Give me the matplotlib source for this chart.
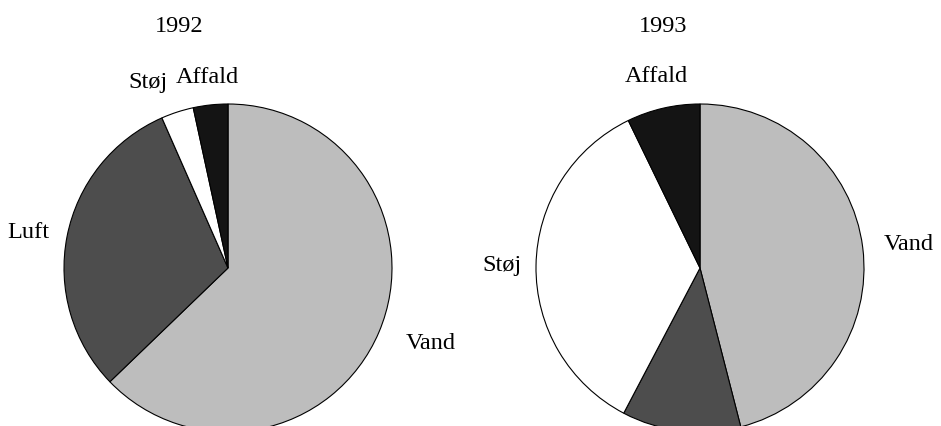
import matplotlib.pyplot as plt
import numpy as np

plt.rcParams['font.family'] = ['Liberation Serif', 'DejaVu Serif']

categories = ["Vand", "Luft", "Støj", "Affald"]
years = ["1992", "1993"]
shares_1992 = [62.8, 30.6, 3.2, 3.4]
shares_1993 = [46.0, 11.7, 35.1, 7.2]
labels_1992 = ["Vand", "Luft", "Støj", "Affald"]
labels_1993 = ["Vand", "", "Støj", "Affald"]

colors = ["#bdbdbd", "#4d4d4d", "#ffffff", "#141414"]

W, H = 941, 426
R = 164  # pie radius in px
LIM = 1.35

fig = plt.figure(figsize=(W / 100, H / 100), dpi=100)
fig.patch.set_facecolor("white")


def make_axes(cx, cy):
    half = LIM * R
    ax = fig.add_axes([(cx - half) / W, (H - cy - half) / H, 2 * half / W, 2 * half / H])
    return ax


def draw_pie(ax, values, labels, dists, aligns):
    wedges, _ = ax.pie(values, colors=colors, startangle=90, counterclock=False,
                       wedgeprops=dict(edgecolor="black", linewidth=0.8))
    for w, lab, d, ha in zip(wedges, labels, dists, aligns):
        if not lab:
            continue
        mid = np.deg2rad((w.theta1 + w.theta2) / 2)
        x, y = d * np.cos(mid), d * np.sin(mid)
        if ha is None:
            ha = "left" if x > 0 else "right"
        ax.text(x, y, lab, ha=ha, va="center", fontsize=17.5)
    ax.set_xlim(-LIM, LIM)
    ax.set_ylim(-LIM, LIM)
    ax.set_aspect("equal")
    ax.axis("off")


ax1 = make_axes(228, 268)
draw_pie(ax1, shares_1992, labels_1992, [1.18, 1.11, 1.19, 1.17],
         [None, None, None, "center"])

ax2 = make_axes(700, 268)
draw_pie(ax2, shares_1993, labels_1993, [1.13, 1.1, 1.09, 1.2],
         [None, None, None, "center"])

fig.text(179.5 / W, 1 - 26 / H, years[0], ha="center", va="center", fontsize=17.5)
fig.text(663.5 / W, 1 - 26 / H, years[1], ha="center", va="center", fontsize=17.5)

fig.savefig("out.png", dpi=100, facecolor="white")
